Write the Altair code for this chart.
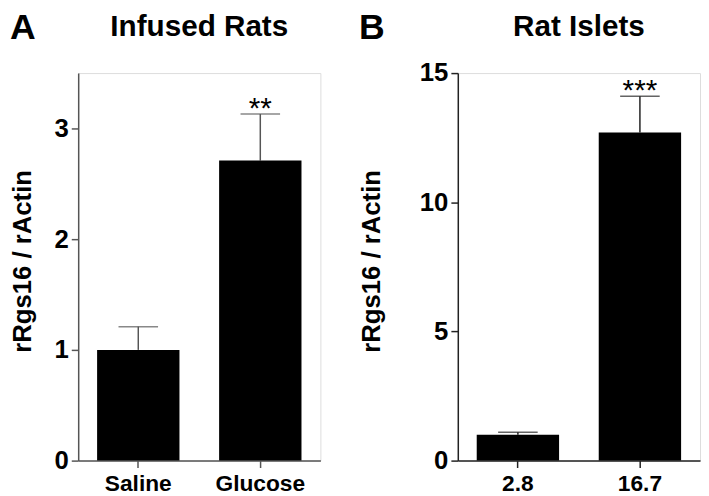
import altair as alt
import pandas as pd

# ---- data ----
cats_a = ["Saline", "Glucose"]
vals_a = [1.0, 2.71]
errs_a = [0.21, 0.42]
stars_a = ["", "**"]

cats_b = ["2.8", "16.7"]
vals_b = [1.0, 12.7]
errs_b = [0.1, 1.4]
stars_b = ["", "***"]

yticks_a = [0, 1, 2, 3]
yticks_b = [0, 5, 10, 15]

FONT = "Liberation Sans"
W, H = 245, 392


def panel(cats, vals, errs, stars, ymax, yticks, title, letter, color,
          letter_x, title_x, anchor=False):
    df = pd.DataFrame({
        "cat": cats,
        "val": vals,
        "up": [v + e for v, e in zip(vals, errs)],
        "star": stars,
    })
    xenc = alt.X(
        "cat:N", sort=cats,
        scale=alt.Scale(paddingInner=0.325, paddingOuter=0.155),
        axis=alt.Axis(title=None, labelAngle=0, labelAlign="center", labelBaseline="top",
                      labelFont=FONT, labelFontSize=23,
                      labelFontWeight="bold", labelColor="black", labelPadding=5,
                      tickSize=7, domainColor=color, tickColor=color,
                      domainWidth=1.5, tickWidth=1.5, grid=False),
    )
    xs = alt.X("cat:N", sort=cats)
    yenc = alt.Y(
        "val:Q",
        scale=alt.Scale(domain=[0, ymax], nice=False, zero=True),
        axis=alt.Axis(values=yticks, format="d", title="rRgs16 / rActin", grid=False,
                      labelFont=FONT, labelFontSize=26, labelFontWeight="bold",
                      labelColor="black", labelPadding=3, tickSize=7,
                      domainColor=color, tickColor=color, domainWidth=1.5, tickWidth=1.5,
                      titleFont=FONT, titleFontSize=26, titleFontWeight="bold",
                      titleColor="black", titleAngle=270, titleAlign="center",
                      titleBaseline="alphabetic", titleX=title_x, titleY=190),
    )
    base = alt.Chart(df)
    rule = base.mark_rule(color=color, strokeWidth=1.5).encode(x=xs, y="val:Q", y2="up:Q")
    bars = base.mark_bar(color="black").encode(x=xenc, y=yenc)
    cap = base.mark_tick(color=color, thickness=1.5, size=40).encode(x=xs, y="up:Q")
    star = base.mark_text(font=FONT, fontSize=30, baseline="alphabetic", dy=4,
                          color="black").encode(x=xs, y="up:Q", text="star:N")
    tdf = pd.DataFrame({"t": [title]})
    ttl = alt.Chart(tdf).mark_text(font=FONT, fontSize=30, fontWeight="bold",
                                   baseline="alphabetic", align="center",
                                   color="black").encode(
        x=alt.value(W / 2), y=alt.value(-38), text="t:N")
    ldf = pd.DataFrame({"t": [letter]})
    let = alt.Chart(ldf).mark_text(font=FONT, fontSize=36, fontWeight="bold",
                                   baseline="alphabetic", align="left",
                                   color="black").encode(
        x=alt.value(letter_x), y=alt.value(-34), text="t:N")
    layers = [rule, bars, cap, star, ttl, let]
    if anchor:
        # invisible layout anchor: fixes the top-left corner of the drawing
        anc = alt.Chart(ldf).mark_rule(strokeOpacity=0, opacity=0).encode(
            x=alt.value(-90), y=alt.value(-90), y2=alt.value(-80))
        layers.append(anc)
    return alt.layer(*layers).properties(width=W, height=H)


pa = panel(cats_a, vals_a, errs_a, stars_a, 3.5, yticks_a, "Infused Rats", "A",
           "#555555", -69, -48, anchor=True)
pb = panel(cats_b, vals_b, errs_b, stars_b, 15, yticks_b, "Rat Islets", "B",
           "#222222", -100, -79)

chart = alt.hconcat(pa, pb, spacing=139, bounds="flush").properties(
    padding={"left": -20, "top": -28, "right": 0, "bottom": 0}
).configure_view(stroke=None).configure(background="white")

chart.save("out.html", embed_options={"renderer": "svg", "actions": False})
